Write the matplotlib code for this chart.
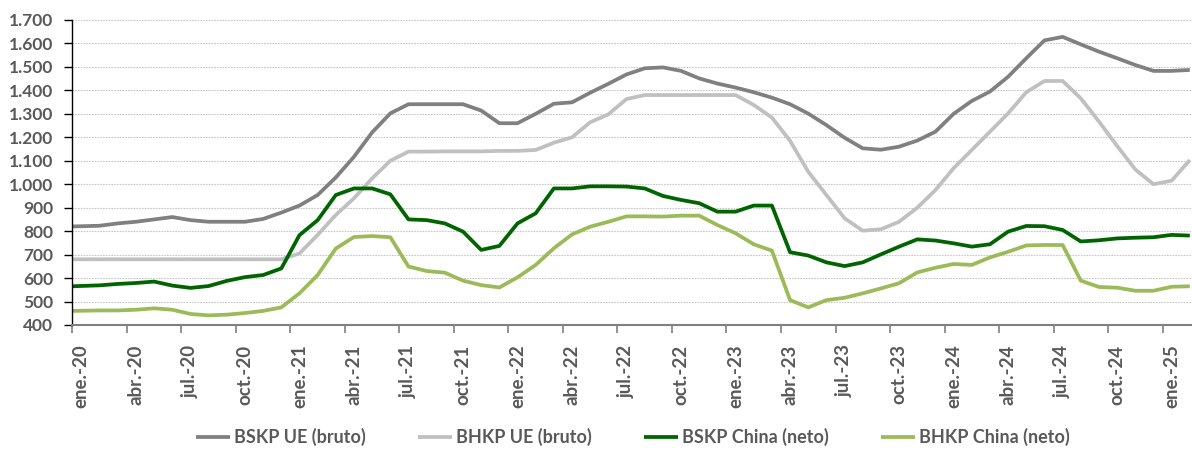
import numpy as np
import matplotlib
matplotlib.use("Agg")
import matplotlib.pyplot as plt
import matplotlib.transforms as mtransforms
from matplotlib.ticker import FuncFormatter, FixedLocator

# ---- data (monthly, ene.-20 .. feb.-25) ----
bskp_ue = [820, 823, 833, 840, 850, 860, 847, 840, 840, 840,
           852, 879, 909, 954, 1029, 1117, 1221, 1302, 1341, 1341,
           1341, 1341, 1314, 1260, 1260, 1300, 1343, 1349, 1390, 1428,
           1468, 1494, 1498, 1483, 1451, 1429, 1412, 1392, 1369, 1341,
           1301, 1252, 1198, 1153, 1147, 1160, 1186, 1224, 1300, 1355,
           1395, 1458, 1537, 1613, 1628, 1596, 1565, 1537, 1508, 1483, 1483, 1487]
bhkp_ue = [680, 680, 680, 680, 680, 680, 680, 680, 680, 680,
           680, 680, 705, 784, 869, 940, 1025, 1100, 1139, 1139,
           1140, 1140, 1140, 1142, 1142, 1146, 1177, 1200, 1264, 1298,
           1363, 1380, 1380, 1380, 1380, 1380, 1380, 1338, 1284, 1185,
           1053, 954, 855, 802, 808, 840, 900, 975, 1068, 1146,
           1224, 1302, 1392, 1440, 1440, 1366, 1267, 1163, 1063, 1000, 1015, 1103]
bskp_china = [565, 569, 575, 579, 585, 568, 558, 566, 588, 604,
              613, 641, 783, 847, 954, 982, 982, 957, 850, 847,
              833, 798, 720, 737, 833, 876, 982, 982, 991, 991,
              990, 982, 950, 933, 919, 883, 883, 909, 909, 710,
              696, 667, 651, 667, 701, 734, 765, 760, 748, 734,
              744, 798, 822, 821, 805, 756, 761, 769, 772, 774, 784, 781]
bhkp_china = [460, 462, 462, 465, 471, 465, 447, 441, 444, 451,
              460, 475, 535, 613, 726, 775, 779, 774, 649, 630,
              623, 589, 570, 560, 603, 656, 727, 786, 819, 840,
              863, 863, 862, 866, 866, 826, 791, 744, 717, 506,
              475, 506, 516, 535, 556, 578, 624, 644, 660, 656,
              688, 712, 739, 741, 741, 589, 562, 559, 546, 546, 563, 565]

series_names = ["BSKP UE (bruto)", "BHKP UE (bruto)", "BSKP China (neto)", "BHKP China (neto)"]
month_abbr = ["ene.", "abr.", "jul.", "oct."]
years = ["20", "21", "22", "23", "24", "25"]
tick_labels = [f"{m}-{y}" for y in years for m in month_abbr][:21]

# ---- style ----
plt.rcParams['font.family'] = ['Lato', 'DejaVu Sans']
txt = '#595959'
colors = ['#808080', '#c0c0c0', '#006400', '#9bbb59']

n = len(bskp_ue)
x = np.arange(n) + 0.5   # mid-month positions
x[0] = 0.0               # first observation at axis start

fig = plt.figure(figsize=(11.92, 4.5), dpi=100)
ax = fig.add_axes([0.0607, 0.2778, 0.9393, 0.6778])

for vals, c, name in zip([bskp_ue, bhkp_ue, bskp_china, bhkp_china], colors, series_names):
    ax.plot(x, vals, color=c, lw=2.7, label=name, solid_joinstyle='round', solid_capstyle='butt')

ax.set_xlim(0, 61.62)
ax.set_ylim(400, 1700)
ax.yaxis.set_major_locator(FixedLocator(np.arange(400, 1701, 100)))
ax.yaxis.set_major_formatter(FuncFormatter(lambda v, p: f"{int(v):,}".replace(",", ".")))
ax.set_xticks(np.arange(0, 61, 3))
ax.set_xticklabels(tick_labels, rotation=90)

ax.grid(axis='y', color='#c8c8c8', linestyle=(0, (1.5, 1)), lw=0.8)
ax.set_axisbelow(True)
for s in ['top', 'right']:
    ax.spines[s].set_visible(False)
ax.spines['left'].set_color('#000000')
ax.spines['left'].set_linewidth(1.0)
ax.spines['bottom'].set_color('#808080')
ax.spines['bottom'].set_linewidth(1.5)

ax.tick_params(axis='y', colors='#000000', labelcolor=txt, length=6, width=1.0, pad=8,
               labelsize=12.5)
ax.tick_params(axis='x', colors='#808080', labelcolor=txt, length=6, width=1.2, pad=8,
               labelsize=13.5)
offset = mtransforms.ScaledTranslation(9 / 100, 0, fig.dpi_scale_trans)
for lab in ax.get_xticklabels():
    lab.set_fontweight('bold')
    lab.set_transform(lab.get_transform() + offset)
for lab in ax.get_yticklabels():
    lab.set_fontweight('bold')

leg = fig.legend(loc='center', bbox_to_anchor=(0.531, 0.029), ncol=4, frameon=False,
                 handlelength=1.9, handletextpad=0.2, columnspacing=2.9,
                 prop={'weight': 'bold', 'size': 13})
for t in leg.get_texts():
    t.set_color(txt)

fig.savefig('out.png', dpi=100)
